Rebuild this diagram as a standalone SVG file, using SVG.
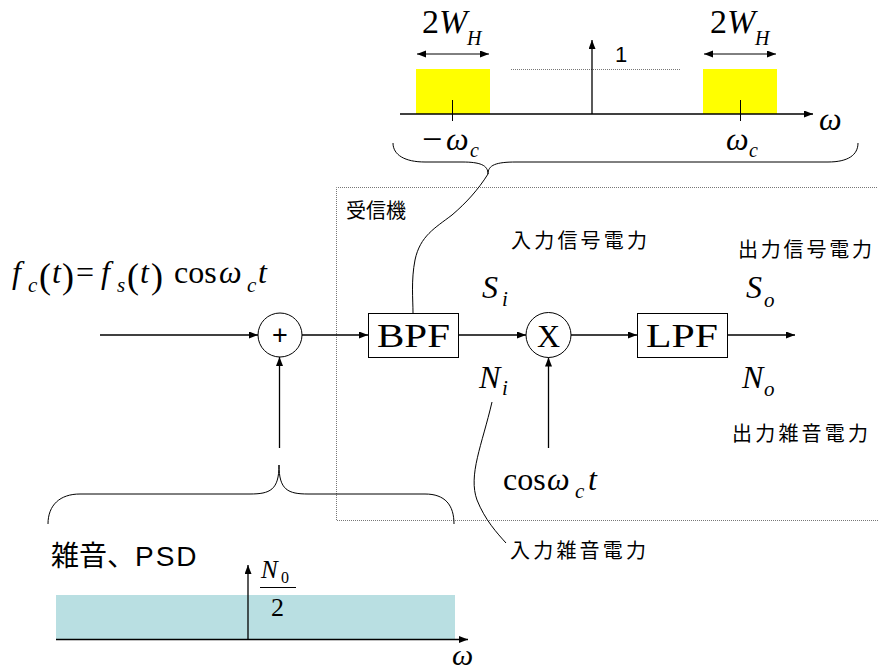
<svg xmlns="http://www.w3.org/2000/svg" width="878" height="672" viewBox="0 0 878 672">
<defs>
<marker id="ah" markerUnits="userSpaceOnUse" markerWidth="10" markerHeight="8" refX="9" refY="3.5" orient="auto-start-reverse"><path d="M0,0 L9,3.5 L0,7 z" fill="#000"/></marker>
<style>
.ln{stroke:#000;stroke-width:1.3;fill:none}
.thin{stroke:#000;stroke-width:1;fill:none}
.dot{stroke:#777;stroke-width:1;stroke-dasharray:1 1;fill:none}
.m{font-family:"Liberation Serif",serif;fill:#000}
.i{font-style:italic}
.jp{font-family:"Noto Sans CJK JP","Noto Sans",sans-serif;fill:#000}
.blk{fill:#fff;stroke:#000;stroke-width:1}
</style>
</defs>
<rect width="878" height="672" fill="#fff"/>

<!-- receiver dotted frame -->
<g id="receiver">
<path class="dot" d="M879,187.5 H336.5 V520.5 H879"/>
<text class="jp" x="346" y="218" font-size="20">受信機</text>
</g>

<!-- top spectrum -->
<g id="bpf-spectrum">
<rect x="416" y="69" width="74" height="45" fill="#ffff00"/>
<rect x="703" y="69" width="74" height="45" fill="#ffff00"/>
<path class="dot" d="M511,69.5 H680"/>
<path class="ln" d="M400,114 H813" marker-end="url(#ah)"/>
<path class="ln" d="M592,114 V40" marker-end="url(#ah)"/>
<path class="thin" d="M452.5,100 V121 M740.5,100 V121"/>
<path class="thin" d="M417,54 H489" marker-start="url(#ah)" marker-end="url(#ah)"/>
<path class="thin" d="M704,54 H776" marker-start="url(#ah)" marker-end="url(#ah)"/>
<text x="615" y="62" font-family="Liberation Sans,sans-serif" font-size="22">1</text>
<text class="m" x="422" y="33" font-size="34">2<tspan class="i">W</tspan></text>
<text class="m i" x="467" y="45" font-size="20">H</text>
<text class="m" x="710" y="33" font-size="34">2<tspan class="i">W</tspan></text>
<text class="m i" x="755" y="45" font-size="20">H</text>
<text class="m" x="422" y="151" font-size="36">−</text>
<text class="m i" x="446" y="150" font-size="32">ω</text>
<text class="m i" x="470" y="157" font-size="20">c</text>
<text class="m i" x="726" y="150" font-size="32">ω</text>
<text class="m i" x="749" y="157" font-size="20">c</text>
<text class="m i" x="819" y="130" font-size="32">ω</text>
<path class="thin" d="M393,143 C393,155 405,162 425,162 L462,162 C480,162 488,165 488,174 C488,165 496,162 516,162 L828,162 C848,162 858,155 858,143"/>
</g>

<!-- input formula -->
<g id="input-formula">
<text class="m i" x="12" y="283" font-size="32">f</text>
<text class="m i" x="28" y="292" font-size="21">c</text>
<text class="m" x="39" y="288" font-size="36">(</text>
<text class="m i" x="52" y="283" font-size="32">t</text>
<text class="m" x="62" y="288" font-size="36">)</text>
<text class="m" x="76" y="283" font-size="32">=</text>
<text class="m i" x="101" y="283" font-size="32">f</text>
<text class="m i" x="117" y="292" font-size="21">s</text>
<text class="m" x="127" y="288" font-size="36">(</text>
<text class="m i" x="140" y="283" font-size="32">t</text>
<text class="m" x="151" y="288" font-size="36">)</text>
<text class="m" x="174" y="283" font-size="32">cos</text>
<text class="m i" x="219" y="283" font-size="32">ω</text>
<text class="m i" x="247" y="292" font-size="21">c</text>
<text class="m i" x="258" y="283" font-size="32">t</text>
</g>

<!-- nodes -->
<g id="adder">
<circle cx="280" cy="335" r="22" fill="#fff" stroke="#000" stroke-width="1"/>
<text x="280" y="344" text-anchor="middle" font-family="Liberation Sans,sans-serif" font-size="27">+</text>
</g>
<g id="bpf">
<rect class="blk" x="368.5" y="313.5" width="90" height="44"/>
<text class="m" x="377" y="347" font-size="33" textLength="73" lengthAdjust="spacingAndGlyphs">BPF</text>
</g>
<g id="mixer">
<circle cx="548.5" cy="335" r="22.5" fill="#fff" stroke="#000" stroke-width="1"/>
<text class="m" x="548.5" y="347" font-size="32" text-anchor="middle">X</text>
</g>
<g id="lpf">
<rect class="blk" x="637.5" y="313.5" width="90" height="44"/>
<text class="m" x="646" y="347" font-size="33" textLength="72" lengthAdjust="spacingAndGlyphs">LPF</text>
</g>

<!-- connectors -->
<g id="connectors">
<path class="ln" d="M100,335 H258" marker-end="url(#ah)"/>
<path class="ln" d="M302,335 H368" marker-end="url(#ah)"/>
<path class="ln" d="M459,335 H526" marker-end="url(#ah)"/>
<path class="ln" d="M571,335 H637" marker-end="url(#ah)"/>
<path class="ln" d="M728,335 H795" marker-end="url(#ah)"/>
<path class="ln" d="M548.5,448 V357.5" marker-end="url(#ah)"/>
<path class="ln" d="M279.5,448 V357" marker-end="url(#ah)"/>
<path class="thin" d="M488,174 C478,190 466,203 452,215 C435,228 420,236 415,260 C411,280 413,300 413,313"/>
<path class="thin" d="M492,402 C482,445 468,475 477,500 C485,520 497,533 506,543"/>
</g>

<!-- signal / noise labels -->
<g id="labels">
<text class="m i" x="482" y="298" font-size="32">S</text>
<text class="m i" x="502" y="306" font-size="21">i</text>
<text class="m i" x="479" y="388" font-size="32">N</text>
<text class="m i" x="502" y="395" font-size="21">i</text>
<text class="m i" x="746" y="298" font-size="32">S</text>
<text class="m i" x="764" y="307" font-size="21">o</text>
<text class="m i" x="742" y="388" font-size="32">N</text>
<text class="m i" x="764" y="396" font-size="21">o</text>
<text class="m" x="503" y="490" font-size="32">cos</text>
<text class="m i" x="547" y="490" font-size="32">ω</text>
<text class="m i" x="575" y="498" font-size="21">c</text>
<text class="m i" x="588" y="490" font-size="32">t</text>
<text class="jp" x="511" y="248" font-size="20" textLength="136">入力信号電力</text>
<text class="jp" x="738" y="257" font-size="20" textLength="134">出力信号電力</text>
<text class="jp" x="732" y="441" font-size="20" textLength="136">出力雑音電力</text>
<text class="jp" x="510" y="558" font-size="20" textLength="136">入力雑音電力</text>
</g>

<!-- noise PSD -->
<g id="noise-psd">
<path class="thin" d="M48,524 C48,505 60,494 80,494 L250,494 C270,494 279,490 279,465 C279,490 288,494 308,494 L425,494 C445,494 454,505 454,524"/>
<text class="jp" x="51" y="566" font-size="28">雑音、<tspan font-family="Liberation Sans,sans-serif" letter-spacing="2">PSD</tspan></text>
<rect x="56" y="595" width="399" height="44" fill="#b9dfe2"/>
<path class="ln" d="M56,639.5 H468" marker-end="url(#ah)"/>
<path class="ln" d="M248,639 V565" marker-end="url(#ah)"/>
<text class="m i" x="261" y="578" font-size="25">N</text>
<text class="m" x="281" y="583" font-size="16">0</text>
<path class="thin" d="M260,587.5 H296"/>
<text class="m" x="271" y="616" font-size="26">2</text>
<text class="m i" x="452" y="665" font-size="30">ω</text>
</g>
</svg>
